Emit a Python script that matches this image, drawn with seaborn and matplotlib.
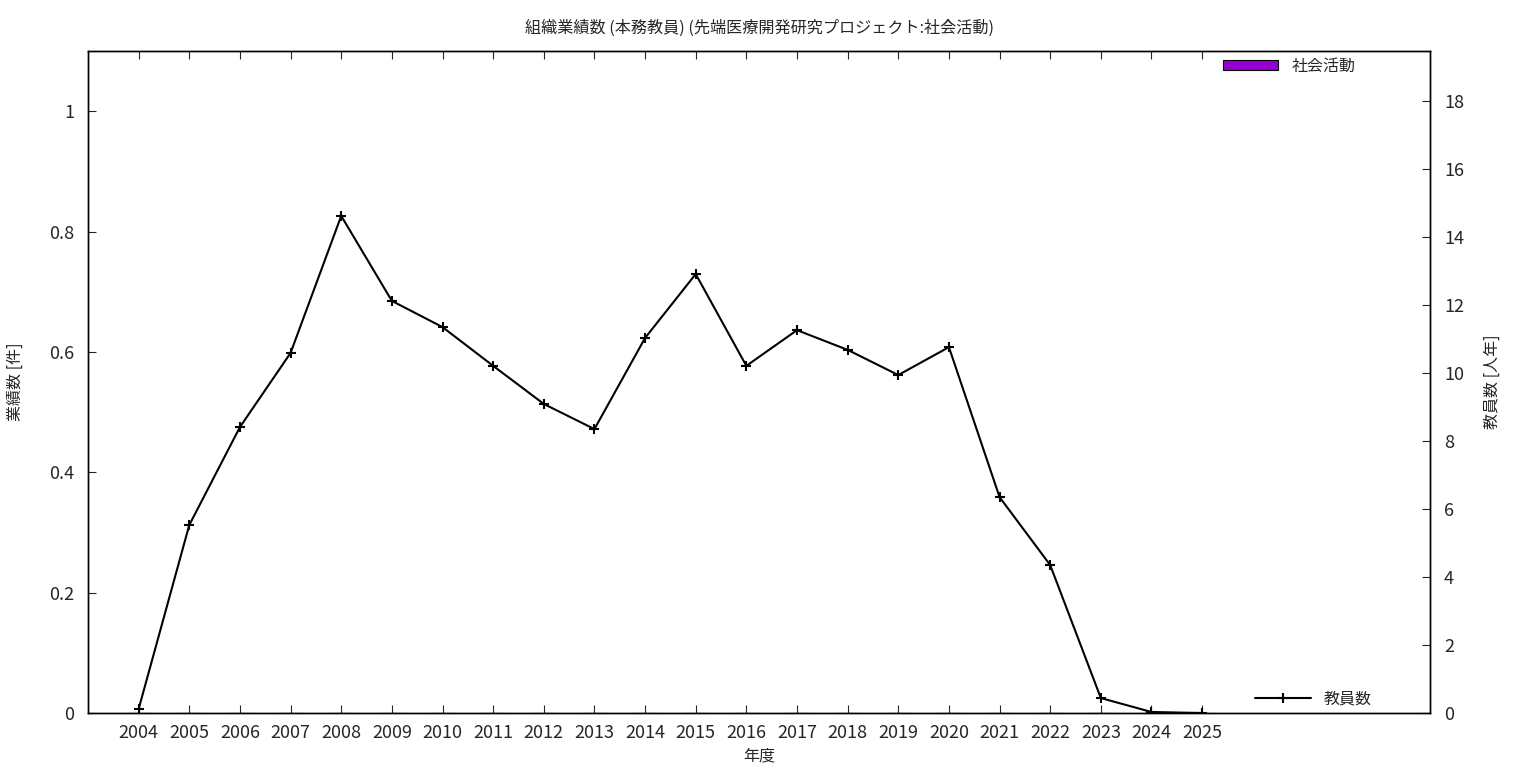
import numpy as np
import matplotlib
matplotlib.use("Agg")
import matplotlib.pyplot as plt
import seaborn as sns

# data
years = [2004, 2005, 2006, 2007, 2008, 2009, 2010, 2011, 2012, 2013, 2014,
         2015, 2016, 2017, 2018, 2019, 2020, 2021, 2022, 2023, 2024, 2025]
activity = [0] * len(years)  # 社会活動 (all zero)
staff = [0.12, 5.53, 8.41, 10.59, 14.62, 12.12, 11.35, 10.21, 9.09, 8.35, 11.03,
         12.91, 10.21, 11.26, 10.68, 9.94, 10.76, 6.35, 4.35, 0.44, 0.03, 0.0]

sns.set_style("ticks")
plt.rcParams['font.family'] = ['Noto Sans CJK JP', 'DejaVu Sans']

fig = plt.figure(figsize=(15.36, 7.68), dpi=100)
ax = fig.add_axes([0.0573, 0.0716, 0.8737, 0.862])
ax2 = ax.twinx()

idx = np.arange(len(years))

# bars (left axis)
ax.bar(idx, activity, width=0.5, color='#9400D3', edgecolor='black', linewidth=0.8, label='社会活動')

# staff line (right axis)
sns.lineplot(x=idx, y=staff, ax=ax2, color='black', marker='+', markersize=7,
             markeredgewidth=1.5, markeredgecolor='black', linewidth=1.5, label='教員数')

ax.set_xlim(-1, 25.5)
ax.set_ylim(0, 1.1)
ax2.set_ylim(0, 19.47)
ax.set_yticks([0, 0.2, 0.4, 0.6, 0.8, 1.0])
ax.set_yticklabels(['0', '0.2', '0.4', '0.6', '0.8', '1'])
ax2.set_yticks(range(0, 19, 2))
ax.set_xticks(idx)
ax.set_xticklabels([str(y) for y in years])

ax.tick_params(axis='x', direction='in', top=True, length=6, labelsize=13, pad=8)
ax.tick_params(axis='y', direction='in', right=False, length=6, labelsize=13, pad=10)
ax2.tick_params(axis='y', direction='in', length=6, labelsize=13, pad=10)
for a in (ax, ax2):
    for s in a.spines.values():
        s.set_linewidth(1.0)
        s.set_color('black')

ax.set_xlabel('年度', fontsize=11.5, labelpad=4)
ax.set_ylabel('業績数 [件]', fontsize=11.5, labelpad=18)
ax2.set_ylabel('教員数 [人年]', fontsize=11.5, rotation=90, labelpad=14)
ax2.yaxis.set_label_position('right')
ax.set_title('組織業績数 (本務教員) (先端医療開発研究プロジェクト:社会活動)', fontsize=11.6, pad=13)

ax.legend(loc='upper right', bbox_to_anchor=(0.955, 1.012), frameon=False, fontsize=11.5,
          handlelength=3.5, handleheight=0.6)
ax2.legend(loc='lower right', bbox_to_anchor=(0.967, -0.014), frameon=False, fontsize=11.5,
           handlelength=3.5)

fig.savefig('out.png', dpi=100)
